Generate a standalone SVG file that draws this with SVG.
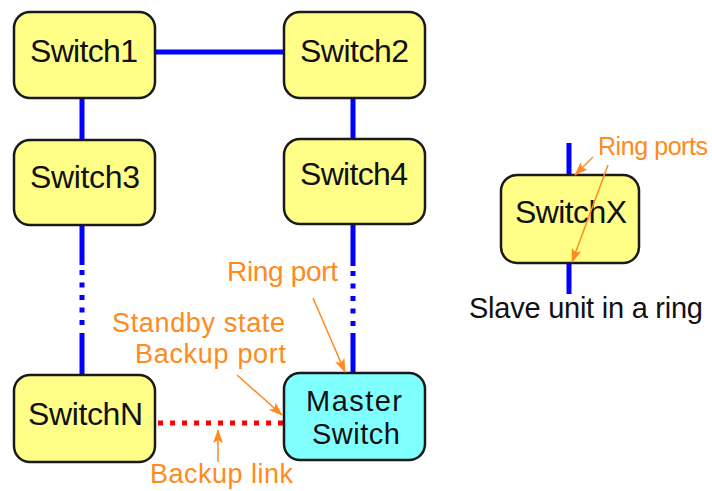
<svg xmlns="http://www.w3.org/2000/svg" width="712" height="491" viewBox="0 0 712 491">
<style>
.sw{fill:#ffff88;stroke:#1a1a1a;stroke-width:2.5}
.ms{fill:#80ffff;stroke:#1a1a1a;stroke-width:2.5}
.lbl{font-family:"Liberation Sans",Arial,sans-serif;font-size:32px;fill:#111}
.note{font-family:"Liberation Sans",Arial,sans-serif;font-size:27px;fill:#ff8a20}
.ring{stroke:#0000ff;stroke-width:5;fill:none}
.dot{stroke:#0000ff;stroke-width:5;fill:none;stroke-dasharray:5 7.5}
.bk{stroke:#ff0000;stroke-width:5;fill:none;stroke-dasharray:5 7}
.arr{stroke:#ff8a20;stroke-width:1.5;fill:none;marker-end:url(#ah)}
</style>
<defs>
<marker id="ah" markerWidth="14" markerHeight="10" refX="13" refY="5" orient="auto" markerUnits="userSpaceOnUse">
<path d="M0,0 L14,5 L0,10 L3,5 Z" fill="#ff8a20"/>
</marker>
</defs>
<g id="connectors">
<line class="ring" x1="155" y1="52" x2="284" y2="52"/>
<line class="ring" x1="82" y1="97" x2="82" y2="140"/>
<line class="ring" x1="353" y1="97" x2="353" y2="140"/>
<line class="ring" x1="82" y1="225" x2="82" y2="265"/>
<line class="dot" x1="82" y1="270" x2="82" y2="327"/>
<line class="ring" x1="82" y1="333" x2="82" y2="375"/>
<line class="ring" x1="353" y1="224" x2="353" y2="266"/>
<line class="dot" x1="353" y1="271" x2="353" y2="327"/>
<line class="ring" x1="353" y1="333" x2="353" y2="373"/>
<line class="bk" x1="158" y1="423" x2="284" y2="423"/>
<line class="ring" x1="569" y1="143" x2="569" y2="175"/>
<line class="ring" x1="569" y1="263" x2="569" y2="294"/>
</g>
<g id="switch1"><rect class="sw" x="14" y="12" width="141" height="86" rx="16"/><text class="lbl" x="30" y="62" textLength="108">Switch1</text></g>
<g id="switch2"><rect class="sw" x="284" y="12" width="141" height="86" rx="16"/><text class="lbl" x="300" y="62" textLength="109">Switch2</text></g>
<g id="switch3"><rect class="sw" x="14" y="140" width="141" height="85" rx="16"/><text class="lbl" x="30" y="188" textLength="110">Switch3</text></g>
<g id="switch4"><rect class="sw" x="284" y="139" width="141" height="85" rx="16"/><text class="lbl" x="300" y="185" textLength="108">Switch4</text></g>
<g id="switchN"><rect class="sw" x="14" y="375" width="141" height="87" rx="16"/><text class="lbl" x="28" y="425" textLength="115">SwitchN</text></g>
<g id="master"><rect class="ms" x="284" y="373" width="141" height="87" rx="16"/><text class="lbl" x="306" y="411" textLength="96" style="font-size:29px">Master</text><text class="lbl" x="312" y="444" textLength="88" style="font-size:29px">Switch</text></g>
<g id="switchX"><rect class="sw" x="501" y="175" width="138" height="88" rx="16"/><text class="lbl" x="515" y="223" textLength="112">SwitchX</text></g>
<g id="annotations">
<text class="lbl" x="469" y="318" textLength="234" style="font-size:29px">Slave unit in a ring</text>
<text class="note" x="598" y="155" textLength="110" style="font-size:25px">Ring ports</text>
<text class="note" x="227" y="281" textLength="111" style="font-size:28px">Ring port</text>
<text class="note" x="112" y="332" textLength="173">Standby state</text>
<text class="note" x="135" y="363" textLength="151">Backup port</text>
<text class="note" x="150" y="483" textLength="143">Backup link</text>
<line class="arr" x1="593" y1="157" x2="575" y2="175"/>
<line class="arr" x1="608" y1="165" x2="572" y2="262"/>
<line class="arr" x1="313" y1="298" x2="345" y2="372"/>
<line class="arr" x1="237" y1="375" x2="282" y2="415"/>
<line class="arr" x1="218" y1="462" x2="218" y2="430"/>
</g>
</svg>
